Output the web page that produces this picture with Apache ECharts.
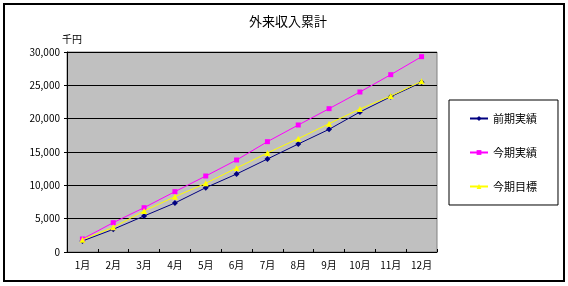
<!DOCTYPE html>
<html>
<head>
<meta charset="utf-8">
<script src="https://cdn.jsdelivr.net/npm/echarts@6/dist/echarts.min.js"></script>
<style>html,body{margin:0;padding:0;background:#fff;}#c{width:568px;height:286px;}</style>
</head>
<body>
<div id="c"></div>
<script>
const titleText = '外来収入累計';
const unitLabel = '千円';
const categories = ['1月','2月','3月','4月','5月','6月','7月','8月','9月','10月','11月','12月'];
const seriesNames = ['前期実績','今期実績','今期目標'];
const prevActual = [1650, 3400, 5400, 7350, 9650, 11700, 13950, 16200, 18400, 21000, 23300, 25450];
const currActual = [1950, 4400, 6650, 9050, 11400, 13800, 16550, 19050, 21500, 24000, 26600, 29300];
const currTarget = [1850, 3700, 6150, 8300, 10300, 12600, 14850, 17000, 19250, 21450, 23400, 25600];
const yMin = 0, yMax = 30000, yStep = 5000;

const font = '"Noto Sans CJK JP", "Noto Sans", sans-serif';
const chart = echarts.init(document.getElementById('c'), null, {renderer: 'canvas'});
chart.setOption({
  animation: false,
  backgroundColor: '#fff',
  textStyle: {fontFamily: font},
  title: {
    text: titleText, left: 283, top: 10, textAlign: 'center',
    textStyle: {fontSize: 13, fontWeight: 'normal', color: '#000', fontFamily: font}
  },
  graphic: [{
    type: 'rect', shape: {x: 4, y: 4, width: 560, height: 277},
    style: {fill: 'none', stroke: '#000', lineWidth: 2}, silent: true
  }],
  grid: {
    left: 67, right: 131, top: 52, bottom: 34,
    show: true, backgroundColor: '#C0C0C0', borderColor: '#808080', borderWidth: 1
  },
  legend: {
    orient: 'vertical', left: 449, top: 100,
    padding: [13, 21, 13, 20], itemGap: 23, itemWidth: 18, itemHeight: 6,
    borderColor: '#000', borderWidth: 1, backgroundColor: '#fff',
    textStyle: {fontSize: 11, color: '#000', fontFamily: font},
    data: seriesNames
  },
  xAxis: {
    type: 'category', data: categories, boundaryGap: true,
    axisLine: {lineStyle: {color: '#000', width: 1}},
    axisTick: {show: true, inside: true, length: 3, interval: 0, lineStyle: {color: '#000'}},
    axisLabel: {fontSize: 10, color: '#000', margin: 8, interval: 0, fontFamily: font},
    splitLine: {show: false}
  },
  yAxis: {
    type: 'value', min: yMin, max: yMax, interval: yStep,
    name: unitLabel, nameLocation: 'end', nameGap: 8,
    nameTextStyle: {fontSize: 10, color: '#000', align: 'left', padding: [0, 0, 0, -5], fontFamily: font},
    axisLine: {show: true, lineStyle: {color: '#000', width: 1}},
    axisTick: {show: true, length: 3, lineStyle: {color: '#000'}},
    axisLabel: {fontSize: 10, color: '#000', margin: 7, fontFamily: font,
      formatter: v => v.toLocaleString('en-US')},
    splitLine: {show: true, lineStyle: {color: '#000', width: 1}}
  },
  series: [
    {name: seriesNames[0], type: 'line', data: prevActual, color: '#000080',
      symbol: 'diamond', symbolSize: 6, showAllSymbol: true,
      lineStyle: {width: 1, color: '#000080'}, itemStyle: {color: '#000080'}, z: 1},
    {name: seriesNames[1], type: 'line', data: currActual, color: '#FF00FF',
      symbol: 'rect', symbolSize: 5, showAllSymbol: true,
      lineStyle: {width: 1, color: '#FF00FF'}, itemStyle: {color: '#FF00FF'}, z: 2},
    {name: seriesNames[2], type: 'line', data: currTarget, color: '#FFFF00',
      symbol: 'triangle', symbolSize: 6, showAllSymbol: true,
      lineStyle: {width: 1, color: '#FFFF00'}, itemStyle: {color: '#FFFF00'}, z: 3}
  ]
});
</script>
</body>
</html>
